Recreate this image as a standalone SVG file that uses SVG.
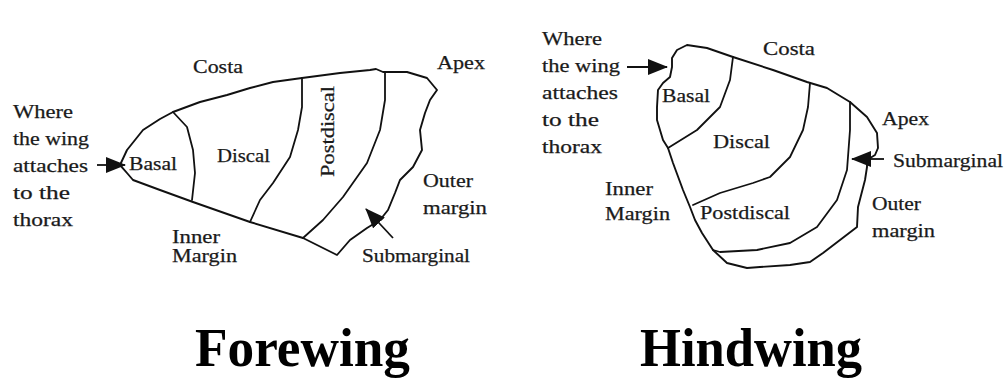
<svg xmlns="http://www.w3.org/2000/svg" width="1006" height="379" viewBox="0 0 1006 379">
  <style>
    .edge { fill: none; stroke: #111; stroke-width: 1.9; stroke-linejoin: round; stroke-linecap: round; }
    .vein { fill: none; stroke: #111; stroke-width: 1.8; stroke-linejoin: round; stroke-linecap: round; }
    .ptr { fill: none; stroke: #111; stroke-width: 1.8; }
    .lbl { font-family: "Liberation Serif", "Times New Roman", serif; font-size: 19px; fill: #1a1a1a; stroke: #1a1a1a; stroke-width: 0.25; }
    .title { font-family: "Liberation Serif", "Times New Roman", serif; font-size: 54px; font-weight: bold; fill: #000; }
  </style>
  <defs>
    <marker id="head" viewBox="0 0 20 16" refX="19" refY="8" markerWidth="20" markerHeight="16" orient="auto" markerUnits="userSpaceOnUse">
      <path d="M0,0 L20,8 L0,16 Z" fill="#111"/>
    </marker>
  </defs>
  <rect width="1006" height="379" fill="#fff"/>

  <!-- Forewing -->
  <g id="forewing">
    <path class="edge" d="M120,165 L127,150 L143,130 L160,119 L173,112 L200,102 L227,95 L250,88 L273,82 L302,78 L340,73 L370,70 L376,69 L383,72 L407,72 L427,78 L437,90 L430,100 L425,113 L420,130 L422,150 L413,167 L400,180 L395,193 L388,210 L380,220 L367,228 L350,240 L337,255 L303,238 L250,222 L193,202 L160,190 L133,180 L127,173 Z"/>
    <path class="vein" d="M173,112 L187,127 L193,150 L195,173 L192,200"/>
    <path class="vein" d="M302,78 L302,107 L298,130 L290,157 L273,183 L260,200 L250,222"/>
    <path class="vein" d="M385,72 L385,100 L380,130 L367,163 L343,197 L323,220 L303,238"/>
  </g>
  <g id="forewing-labels">
    <text class="lbl" x="13" y="118" textLength="60" lengthAdjust="spacingAndGlyphs">Where</text>
    <text class="lbl" x="13" y="145" textLength="76" lengthAdjust="spacingAndGlyphs">the wing</text>
    <text class="lbl" x="13" y="172" textLength="75" lengthAdjust="spacingAndGlyphs">attaches</text>
    <text class="lbl" x="13" y="199" textLength="57" lengthAdjust="spacingAndGlyphs">to the</text>
    <text class="lbl" x="13" y="226" textLength="60" lengthAdjust="spacingAndGlyphs">thorax</text>
    <text class="lbl" x="129" y="170" textLength="48" lengthAdjust="spacingAndGlyphs">Basal</text>
    <text class="lbl" x="217" y="162" textLength="53" lengthAdjust="spacingAndGlyphs">Discal</text>
    <text class="lbl" x="193" y="73" textLength="50" lengthAdjust="spacingAndGlyphs">Costa</text>
    <text class="lbl" x="437" y="69" textLength="48" lengthAdjust="spacingAndGlyphs">Apex</text>
    <text class="lbl" transform="translate(334,132) rotate(-90)" x="-45" textLength="91" lengthAdjust="spacingAndGlyphs">Postdiscal</text>
    <text class="lbl" x="172" y="243" textLength="48" lengthAdjust="spacingAndGlyphs">Inner</text>
    <text class="lbl" x="172" y="262" textLength="65" lengthAdjust="spacingAndGlyphs">Margin</text>
    <text class="lbl" x="423" y="187" textLength="50" lengthAdjust="spacingAndGlyphs">Outer</text>
    <text class="lbl" x="423" y="214" textLength="64" lengthAdjust="spacingAndGlyphs">margin</text>
    <text class="lbl" x="362" y="262" textLength="108" lengthAdjust="spacingAndGlyphs">Submarginal</text>
    <text class="title" x="195" y="366" textLength="215" lengthAdjust="spacingAndGlyphs">Forewing</text>
  </g>

  <!-- Hindwing -->
  <g id="hindwing">
    <path class="edge" d="M672,67 L672,58 L677,50 L687,45 L707,48 L733,57 L773,70 L807,82 L827,88 L850,102 L867,117 L877,133 L878,148 L875,155 L867,160 L867,167 L865,180 L858,207 L857,227 L840,240 L823,253 L810,262 L790,265 L760,267 L747,268 L727,263 L713,250 L702,233 L695,220 L690,207 L683,190 L673,163 L668,148 L663,140 L657,120 L657,107 L658,90 L663,83 L670,77 Z"/>
    <path class="vein" d="M733,57 L730,80 L720,107 L697,130 L668,148"/>
    <path class="vein" d="M810,83 L808,107 L803,130 L790,157 L770,177 L753,183 L720,193 L693,205"/>
    <path class="vein" d="M850,102 L850,130 L847,170 L837,200 L817,227 L790,243 L757,250 L720,252 L713,250"/>
  </g>
  <g id="hindwing-labels">
    <text class="lbl" x="542" y="45" textLength="60" lengthAdjust="spacingAndGlyphs">Where</text>
    <text class="lbl" x="542" y="72" textLength="78" lengthAdjust="spacingAndGlyphs">the wing</text>
    <text class="lbl" x="542" y="99" textLength="76" lengthAdjust="spacingAndGlyphs">attaches</text>
    <text class="lbl" x="542" y="126" textLength="57" lengthAdjust="spacingAndGlyphs">to the</text>
    <text class="lbl" x="542" y="153" textLength="60" lengthAdjust="spacingAndGlyphs">thorax</text>
    <text class="lbl" x="662" y="102" textLength="48" lengthAdjust="spacingAndGlyphs">Basal</text>
    <text class="lbl" x="713" y="148" textLength="57" lengthAdjust="spacingAndGlyphs">Discal</text>
    <text class="lbl" x="700" y="219" textLength="90" lengthAdjust="spacingAndGlyphs">Postdiscal</text>
    <text class="lbl" x="763" y="55" textLength="52" lengthAdjust="spacingAndGlyphs">Costa</text>
    <text class="lbl" x="882" y="125" textLength="47" lengthAdjust="spacingAndGlyphs">Apex</text>
    <text class="lbl" x="893" y="167" textLength="110" lengthAdjust="spacingAndGlyphs">Submarginal</text>
    <text class="lbl" x="872" y="210" textLength="49" lengthAdjust="spacingAndGlyphs">Outer</text>
    <text class="lbl" x="872" y="237" textLength="63" lengthAdjust="spacingAndGlyphs">margin</text>
    <text class="lbl" x="605" y="195" textLength="48" lengthAdjust="spacingAndGlyphs">Inner</text>
    <text class="lbl" x="605" y="220" textLength="65" lengthAdjust="spacingAndGlyphs">Margin</text>
    <text class="title" x="640" y="366" textLength="222" lengthAdjust="spacingAndGlyphs">Hindwing</text>
  </g>

  <!-- Pointer arrows -->
  <g id="connectors">
    <line class="ptr" x1="97" y1="165" x2="125" y2="165" marker-end="url(#head)"/>
    <line class="ptr" x1="393" y1="238" x2="366" y2="209" marker-end="url(#head)"/>
    <line class="ptr" x1="627" y1="67" x2="667" y2="67" marker-end="url(#head)"/>
    <line class="ptr" x1="884" y1="159" x2="852" y2="159" marker-end="url(#head)"/>
  </g>
</svg>
